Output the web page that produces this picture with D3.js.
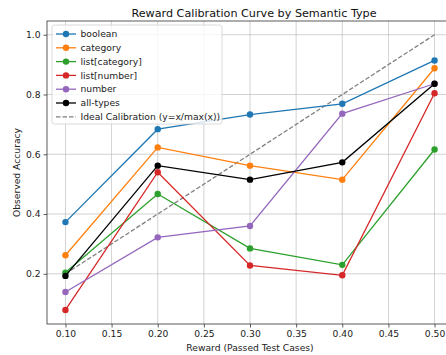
<!DOCTYPE html>
<html>
<head>
<meta charset="utf-8">
<script src="https://cdn.jsdelivr.net/npm/d3@7"></script>
<style>
  body { margin: 0; background: #fff; }
  svg { display: block; font-family: "DejaVu Sans", sans-serif; }
</style>
</head>
<body>
<div id="chart"></div>
<script>
const rewards = [0.1, 0.2, 0.3, 0.4, 0.5];
const seriesNames = ["boolean", "category", "list[category]", "list[number]", "number", "all-types"];
const seriesColors = ["#1f77b4", "#ff7f0e", "#2ca02c", "#d62728", "#9467bd", "#000000"];
const booleanAcc = [0.373, 0.684, 0.733, 0.769, 0.914];
const categoryAcc = [0.262, 0.623, 0.562, 0.515, 0.888];
const listCategoryAcc = [0.204, 0.467, 0.285, 0.230, 0.616];
const listNumberAcc = [0.079, 0.540, 0.228, 0.195, 0.804];
const numberAcc = [0.139, 0.322, 0.360, 0.736, 0.836];
const allTypesAcc = [0.193, 0.562, 0.515, 0.573, 0.836];
const xTicks = [0.10, 0.15, 0.20, 0.25, 0.30, 0.35, 0.40, 0.45, 0.50];
const yTicks = [0.2, 0.4, 0.6, 0.8, 1.0];
const idealLabel = "Ideal Calibration (y=x/max(x))";

const allSeries = [booleanAcc, categoryAcc, listCategoryAcc, listNumberAcc, numberAcc, allTypesAcc];
const maxReward = d3.max(rewards);
const ideal = rewards.map(r => r / maxReward);

const width = 446, height = 355;
const mLeft = 47, mRight = 453, mTop = 21, mBottom = 324;
const fs = 9.2;

const svg = d3.select("#chart").append("svg")
  .attr("width", width).attr("height", height);

const x = d3.scaleLinear().domain([0.08, 0.52]).range([mLeft, mRight]);
const y = d3.scaleLinear().domain([0.032, 1.046]).range([mBottom, mTop]);

// grid
svg.append("g").selectAll("line").data(xTicks).join("line")
  .attr("x1", d => x(d)).attr("x2", d => x(d))
  .attr("y1", mTop).attr("y2", mBottom)
  .attr("stroke", "#b0b0b0").attr("stroke-width", 0.8).attr("opacity", 0.7);
svg.append("g").selectAll("line").data(yTicks).join("line")
  .attr("x1", mLeft).attr("x2", mRight)
  .attr("y1", d => y(d)).attr("y2", d => y(d))
  .attr("stroke", "#b0b0b0").attr("stroke-width", 0.8).attr("opacity", 0.7);

const plot = svg.append("g");

// ideal line
const line = d3.line().x((d, i) => x(rewards[i])).y(d => y(d));
plot.append("path").datum(ideal)
  .attr("d", line).attr("fill", "none")
  .attr("stroke", "#808080").attr("stroke-width", 1.3)
  .attr("stroke-dasharray", "4.5,2");

allSeries.forEach((vals, k) => {
  const g = plot.append("g");
  g.append("path").datum(vals)
    .attr("d", line).attr("fill", "none")
    .attr("stroke", seriesColors[k]).attr("stroke-width", 1.3);
  g.selectAll("circle").data(vals).join("circle")
    .attr("cx", (d, i) => x(rewards[i])).attr("cy", d => y(d))
    .attr("r", 3.2).attr("fill", seriesColors[k]);
});

// axes
const xAxis = svg.append("g").attr("transform", `translate(0,${mBottom})`)
  .call(d3.axisBottom(x).tickValues(xTicks).tickFormat(d3.format(".2f")).tickSize(3.5).tickPadding(3));
const yAxis = svg.append("g").attr("transform", `translate(${mLeft},0)`)
  .call(d3.axisLeft(y).tickValues(yTicks).tickFormat(d3.format(".1f")).tickSize(3.5).tickPadding(3));
[xAxis, yAxis].forEach(a => {
  a.select(".domain").remove();
  a.selectAll("text").attr("font-size", fs).attr("fill", "#222").attr("font-family", "DejaVu Sans");
  a.selectAll("line").attr("stroke", "#333").attr("stroke-width", 0.8);
});

// spines
svg.append("rect").attr("x", mLeft).attr("y", mTop)
  .attr("width", mRight - mLeft).attr("height", mBottom - mTop)
  .attr("fill", "none").attr("stroke", "#333").attr("stroke-width", 0.8);

// labels
svg.append("text").attr("x", 254).attr("y", 17).attr("text-anchor", "middle")
  .attr("font-size", 11.2).attr("fill", "#111").text("Reward Calibration Curve by Semantic Type");
svg.append("text").attr("x", 250).attr("y", 351).attr("text-anchor", "middle")
  .attr("font-size", fs).attr("fill", "#222").text("Reward (Passed Test Cases)");
svg.append("text").attr("transform", `translate(20,${(mTop + mBottom) / 2}) rotate(-90)`)
  .attr("text-anchor", "middle").attr("font-size", fs).attr("fill", "#222").text("Observed Accuracy");

// legend
const legend = svg.append("g").attr("transform", "translate(52,25)");
legend.append("rect").attr("x", 0).attr("y", 0).attr("width", 170).attr("height", 99)
  .attr("rx", 2.5).attr("fill", "#fff").attr("fill-opacity", 0.8)
  .attr("stroke", "#d0d0d0").attr("stroke-width", 0.8);
const entries = seriesNames.map((n, k) => ({ name: n, color: seriesColors[k], dash: null, marker: true }))
  .concat([{ name: idealLabel, color: "#808080", dash: "4.5,2", marker: false }]);
const item = legend.selectAll("g.item").data(entries).join("g")
  .attr("class", "item")
  .attr("transform", (d, i) => `translate(0,${9 + i * 13.8})`);
item.append("line").attr("x1", 4).attr("x2", 24).attr("y1", 0).attr("y2", 0)
  .attr("stroke", d => d.color).attr("stroke-width", 1.3)
  .attr("stroke-dasharray", d => d.dash);
item.filter(d => d.marker).append("circle").attr("cx", 14).attr("cy", 0).attr("r", 3.2)
  .attr("fill", d => d.color);
item.append("text").attr("x", 28.5).attr("y", 0).attr("dy", "0.35em")
  .attr("font-size", fs).attr("fill", "#222").text(d => d.name);
</script>
</body>
</html>
